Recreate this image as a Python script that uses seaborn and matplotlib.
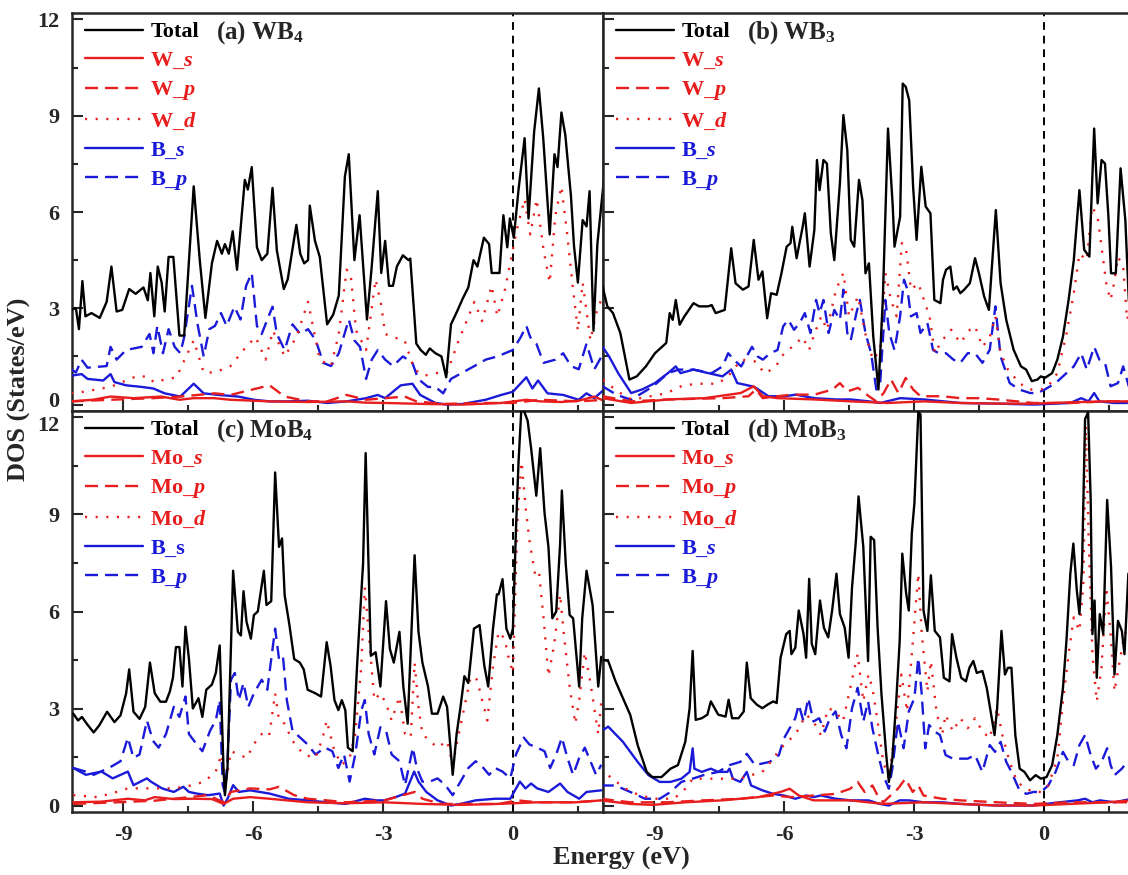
import matplotlib
matplotlib.use('Agg')
import matplotlib.pyplot as plt
from matplotlib.ticker import MultipleLocator
from matplotlib.transforms import ScaledTranslation
import seaborn as sns

############### Dados

# (a) WB4
a_tot_E = [-10.2, -10.09, -10.02, -9.94, -9.87, -9.73, -9.54, -9.38, -9.27, -9.15, -9.02, -8.86, -8.71, -8.53,
           -8.43, -8.37, -8.28, -8.2, -8.11, -8.04, -7.95, -7.84, -7.7, -7.59, -7.37, -7.23, -7.1, -6.95, -6.83,
           -6.72, -6.65, -6.56, -6.47, -6.37, -6.19, -6.12, -6.03, -5.91, -5.8, -5.67, -5.55, -5.45, -5.29, -5.2,
           -5.0, -4.91, -4.82, -4.73, -4.69, -4.57, -4.46, -4.29, -4.15, -4.02, -3.88, -3.79, -3.66, -3.54, -3.37,
           -3.26, -3.12, -3.04, -2.95, -2.86, -2.77, -2.68, -2.54, -2.41, -2.37, -2.23, -2.13, -2.01, -1.92, -1.79,
           -1.65, -1.54, -1.43, -1.29, -1.16, -1.03, -0.91, -0.82, -0.67, -0.55, -0.49, -0.31, -0.22, -0.13, -0.07,
           0.02, 0.13, 0.27, 0.36, 0.49, 0.6, 0.7, 0.85, 0.96, 1.03, 1.12, 1.21, 1.34, 1.41, 1.5, 1.61, 1.7, 1.77,
           1.86, 1.95, 2.1]
a_tot = [2.96, 3.0, 2.35, 3.85, 2.75, 2.85, 2.7, 3.2, 4.3, 2.9, 2.95, 3.6, 3.45, 3.65,
         3.25, 4.1, 2.75, 4.3, 3.8, 2.9, 4.6, 4.6, 2.15, 2.15, 6.8, 4.5, 2.7, 4.4, 5.1,
         4.7, 5.0, 4.7, 5.4, 4.2, 7.0, 6.7, 7.4, 4.9, 4.5, 4.7, 6.75, 4.8, 3.6, 3.9,
         5.6, 4.7, 4.4, 4.5, 6.2, 5.1, 4.6, 2.5, 2.8, 3.4, 7.1, 7.8, 4.5, 5.9, 2.65,
         4.3, 6.65, 4.1, 5.1, 3.7, 3.7, 4.3, 4.65, 4.5, 4.55, 1.9, 1.7, 1.55, 1.75, 1.6,
         1.5, 0.85, 2.5, 2.9, 3.3, 3.65, 4.5, 4.3, 5.2, 5.0, 4.1, 4.1, 5.9, 4.9, 5.8,
         5.2, 6.7, 8.3, 5.8, 8.5, 9.85, 8.3, 5.3, 7.8, 7.4, 9.1, 8.4, 6.5, 4.95, 3.8, 5.75, 5.55, 6.65,
         2.3, 5.0, 7.0]
a_Ms_E = [-10.2, -9.7, -9.29, -8.75, -8.12, -7.7, -7.37, -6.9, -6.52, -5.62, -4.73, -3.84, -3.4, -2.95, -2.05,
          -1.16, -0.27, 0.31, 0.63, 1.1, 1.52, 1.88, 2.13]
a_Ms = [0.1, 0.15, 0.25, 0.2, 0.25, 0.15, 0.2, 0.2, 0.15, 0.1, 0.08, 0.1, 0.06, 0.05, 0.02,
        0.0, 0.05, 0.15, 0.1, 0.08, 0.12, 0.25, 0.1]
a_Mp_E = [-10.2, -9.29, -8.3, -7.68, -6.88, -6.52, -6.07, -5.62, -5.27, -4.73, -4.29, -3.84, -3.39, -2.95, -2.5,
          -2.23, -1.61, -0.71, 0.0, 0.63, 1.52, 2.13]
a_Mp = [0.1, 0.15, 0.2, 0.25, 0.35, 0.3, 0.45, 0.6, 0.25, 0.1, 0.1, 0.3, 0.15, 0.2, 0.25,
        0.1, 0.02, 0.05, 0.05, 0.15, 0.1, 0.15]
a_Md_E = [-10.2, -9.91, -9.29, -8.93, -8.66, -8.39, -8.3, -7.95, -7.77, -7.37, -7.14, -6.88, -6.52, -6.16, -5.94,
          -5.71, -5.54, -5.27, -5.0, -4.73, -4.46, -4.2, -4.02, -3.84, -3.75, -3.62, -3.39, -3.17, -3.04, -2.95,
          -2.77, -2.5, -2.28, -2.05, -1.7, -1.52, -1.25, -0.89, -0.71, -0.49, -0.36, -0.18, 0.09, 0.27, 0.4, 0.55,
          0.71, 0.85, 0.98, 1.12, 1.25, 1.38, 1.5, 1.61, 1.79, 1.95, 2.13]
a_Md = [0.35, 0.4, 0.55, 0.75, 0.9, 0.85, 0.7, 0.8, 0.85, 2.0, 1.0, 1.0, 1.2, 1.8, 2.1,
        1.4, 2.3, 1.5, 2.1, 3.2, 1.4, 1.2, 2.2, 4.2, 4.1, 2.3, 1.7, 3.9, 3.1, 2.2,
        2.1, 2.0, 1.1, 0.9, 1.0, 1.0, 2.0, 3.2, 2.6, 3.7, 2.75, 3.6, 5.45, 6.4, 5.3, 6.4,
        4.8, 3.8, 5.9, 6.8, 5.35, 3.7, 2.3, 3.8, 2.0, 3.0, 3.5]
a_Bs_E = [-10.2, -9.96, -9.82, -9.46, -9.29, -9.2, -8.93, -8.57, -8.3, -8.04, -7.68, -7.37, -7.14, -6.79, -6.34,
          -5.98, -5.62, -5.18, -4.73, -4.29, -3.84, -3.39, -3.12, -2.95, -2.59, -2.32, -2.14, -1.79, -1.52, -1.16,
          -0.63, -0.27, 0.0, 0.31, 0.45, 0.58, 0.8, 1.16, 1.52, 1.7, 1.88, 2.13]
a_Bs = [0.9, 0.95, 0.8, 0.75, 0.95, 0.7, 0.6, 0.55, 0.5, 0.35, 0.25, 0.65, 0.35, 0.3, 0.25,
        0.15, 0.1, 0.1, 0.12, 0.05, 0.1, 0.2, 0.3, 0.2, 0.6, 0.65, 0.3, 0.05, 0.0, 0.02,
        0.15, 0.3, 0.4, 0.85, 0.5, 0.75, 0.35, 0.3, 0.15, 0.35, 0.2, 0.5]
a_Bp_E = [-10.2, -10.09, -9.96, -9.82, -9.38, -9.29, -9.15, -8.93, -8.57, -8.39, -8.3, -8.21, -8.08, -7.95, -7.81,
          -7.68, -7.59, -7.41, -7.28, -7.14, -7.01, -6.88, -6.74, -6.61, -6.43, -6.29, -6.16, -6.03, -5.91, -5.8,
          -5.67, -5.55, -5.45, -5.27, -5.09, -4.91, -4.73, -4.55, -4.38, -4.2, -4.02, -3.79, -3.66, -3.53, -3.39,
          -3.26, -3.12, -2.95, -2.77, -2.54, -2.32, -2.19, -1.96, -1.79, -1.61, -1.43, -1.16, -0.89, -0.63, -0.36,
          -0.18, 0.0, 0.18, 0.31, 0.4, 0.54, 0.71, 0.98, 1.16, 1.34, 1.52, 1.7, 1.88, 2.13]
a_Bp = [1.1, 1.0, 1.4, 1.15, 1.2, 1.8, 1.4, 1.7, 1.8, 2.2, 1.6, 2.45, 1.6, 2.35, 1.8,
        1.6, 2.1, 3.7, 2.5, 1.5, 2.35, 2.45, 2.85, 2.45, 3.05, 2.65, 3.7, 4.1, 2.45, 2.2,
        2.65, 3.05, 2.2, 1.7, 2.5, 2.2, 2.35, 2.0, 1.3, 1.2, 1.6, 2.65, 2.0, 1.8, 0.8,
        1.4, 1.7, 1.4, 1.2, 1.5, 1.3, 0.8, 0.55, 0.55, 0.35, 0.8, 1.0, 1.2, 1.4, 1.5,
        1.6, 1.7, 2.1, 2.45, 2.1, 1.9, 1.3, 1.4, 1.6, 1.2, 1.1, 1.9, 1.1, 1.7]

# (b) WB3
b_tot_E = [-10.19, -10.08, -9.95, -9.78, -9.57, -9.4, -9.19, -8.98, -8.72, -8.64, -8.57, -8.5, -8.41, -8.3,
           -8.09, -7.96, -7.75, -7.67, -7.58, -7.37, -7.22, -7.12, -6.95, -6.82, -6.7, -6.59, -6.5, -6.39, -6.3,
           -6.17, -6.06, -5.94, -5.85, -5.81, -5.71, -5.57, -5.52, -5.41, -5.3, -5.24, -5.18, -5.09, -5.01, -4.92,
           -4.84, -4.71, -4.63, -4.54, -4.46, -4.38, -4.27, -4.19, -4.12, -4.04, -3.94, -3.82, -3.72, -3.6, -3.49,
           -3.45, -3.32, -3.26, -3.19, -3.11, -3.02, -2.94, -2.83, -2.73, -2.62, -2.53, -2.39, -2.33, -2.26, -2.16,
           -2.09, -2.01, -1.93, -1.84, -1.71, -1.59, -1.5, -1.38, -1.27, -1.11, -1.0, -0.87, -0.7, -0.53, -0.41,
           -0.28, -0.15, -0.07, 0.02, 0.19, 0.31, 0.44, 0.57, 0.69, 0.82, 0.93, 1.05, 1.16, 1.24, 1.33, 1.41,
           1.49, 1.55, 1.66, 1.77, 1.88, 1.96, 2.03]
b_tot = [3.68, 3.06, 2.85, 2.23, 0.78, 0.88, 1.19, 1.6, 1.92, 2.85, 2.64, 3.26, 2.49, 2.75,
         3.16, 3.06, 3.06, 3.1, 2.85, 2.95, 4.87, 3.78, 3.58, 3.68, 5.13, 3.89, 4.15, 2.69, 3.47,
         3.42, 4.09, 4.92, 5.03, 5.54, 4.56, 5.54, 5.96, 4.3, 5.44, 7.62, 6.68, 7.62, 7.51, 5.34,
         4.5, 6.9, 9.02, 7.93, 5.13, 4.92, 7.0, 6.37, 4.09, 4.4, 2.12, 0.47, 3.26, 8.6, 6.17,
         4.92, 5.85, 10.0, 9.9, 9.48, 6.79, 5.13, 7.41, 6.17, 5.96, 3.26, 3.16, 3.89, 4.2, 4.3,
         3.58, 3.68, 3.47, 3.58, 3.78, 4.56, 4.09, 3.37, 2.95, 6.06, 3.78, 2.64, 1.71, 1.19, 1.09,
         0.73, 0.78, 0.88, 0.83, 0.98, 1.4, 2.12, 3.26, 4.5, 6.68, 4.82, 4.61, 8.6, 6.27, 7.62, 7.51,
         5.85, 4.09, 4.09, 7.36, 5.75, 3.26, 2.6]
b_Ms_E = [-10.19, -9.53, -8.68, -7.84, -7.0, -6.7, -6.49, -6.15, -5.3, -4.46, -3.61, -2.77, -1.93, -1.08, -0.24,
          0.61, 1.45, 2.03]
b_Ms = [0.2, 0.05, 0.16, 0.2, 0.36, 0.57, 0.26, 0.2, 0.16, 0.1, 0.05, 0.1, 0.05, 0.03, 0.03,
        0.07, 0.1, 0.1]
b_Mp_E = [-10.19, -9.53, -8.68, -7.42, -6.82, -6.65, -6.49, -6.15, -5.81, -5.3, -4.88, -4.71, -4.54, -4.29, -4.04,
          -3.87, -3.7, -3.53, -3.36, -3.19, -3.02, -2.85, -2.35, -1.93, -1.5, -1.08, -0.24, 0.61, 1.45, 2.03]
b_Mp = [0.26, 0.1, 0.16, 0.2, 0.26, 0.47, 0.2, 0.26, 0.31, 0.31, 0.47, 0.67, 0.41, 0.52, 0.26,
        0.1, 0.36, 0.78, 0.36, 0.83, 0.47, 0.26, 0.26, 0.2, 0.2, 0.16, 0.05, 0.05, 0.1, 0.1]
b_Md_E = [-10.18, -9.83, -9.51, -9.12, -8.72, -8.33, -7.94, -7.54, -7.31, -6.99, -6.68, -6.44, -6.2, -6.01, -5.81,
          -5.57, -5.42, -5.3, -5.14, -5.01, -4.8, -4.63, -4.5, -4.29, -4.12, -3.95, -3.78, -3.66, -3.53, -3.4,
          -3.28, -3.19, -3.07, -2.9, -2.77, -2.64, -2.52, -2.35, -2.14, -1.93, -1.71, -1.59, -1.42, -1.25, -1.12,
          -1.0, -0.83, -0.57, -0.32, -0.07, 0.1, 0.31, 0.52, 0.69, 0.82, 0.99, 1.11, 1.24, 1.37, 1.45, 1.54,
          1.62, 1.71, 1.83, 1.92, 2.03]
b_Md = [0.77, 0.4, 0.15, 0.25, 0.35, 0.6, 0.65, 0.65, 0.85, 1.4, 1.35, 0.97, 1.17, 1.58, 1.8,
        2.1, 1.7, 2.2, 2.75, 2.33, 3.58, 4.1, 2.75, 3.37, 2.2, 1.4, 1.7, 4.1, 3.26, 2.75,
        5.03, 4.92, 3.58, 3.78, 3.26, 2.75, 1.6, 2.0, 2.33, 1.92, 2.33, 2.44, 1.8, 2.1, 2.75,
        1.6, 1.09, 0.67, 0.47, 0.47, 0.57, 0.98, 2.2, 3.47, 4.7, 4.5, 6.17, 5.85, 4.5, 3.68, 3.26,
        3.78, 4.6, 4.3, 2.64, 3.26]
b_Bs_E = [-10.19, -10.04, -9.83, -9.53, -9.28, -8.98, -8.68, -8.5, -8.39, -8.09, -7.75, -7.42, -7.22, -7.08, -6.74,
          -6.65, -6.36, -5.98, -5.73, -5.3, -4.8, -4.46, -4.04, -3.78, -3.32, -2.77, -1.93, -1.08, -0.24, 0.61,
          0.86, 1.03, 1.16, 1.28, 1.62, 2.03]
b_Bs = [1.8, 1.5, 0.98, 0.36, 0.47, 0.67, 0.98, 1.19, 0.98, 1.09, 0.98, 0.88, 1.09, 0.67, 0.57,
        0.52, 0.26, 0.26, 0.31, 0.2, 0.16, 0.16, 0.1, 0.05, 0.2, 0.16, 0.05, 0.03, 0.0, 0.05,
        0.2, 0.1, 0.36, 0.1, 0.05, 0.05]
b_Bp_E = [-10.19, -9.86, -9.53, -9.02, -8.68, -8.43, -8.09, -7.67, -7.42, -7.29, -7.16, -6.99, -6.74, -6.61, -6.49,
          -6.32, -6.15, -6.02, -5.9, -5.77, -5.64, -5.52, -5.39, -5.26, -5.18, -5.09, -4.97, -4.84, -4.71, -4.63,
          -4.54, -4.46, -4.33, -4.25, -4.12, -3.99, -3.87, -3.78, -3.66, -3.57, -3.45, -3.32, -3.23, -3.15, -3.07,
          -2.94, -2.85, -2.69, -2.56, -2.43, -2.26, -2.09, -1.93, -1.76, -1.59, -1.42, -1.25, -1.12, -1.0, -0.79,
          -0.57, -0.32, -0.15, 0.02, 0.27, 0.52, 0.69, 0.86, 0.99, 1.16, 1.28, 1.41, 1.54, 1.71, 1.83, 1.96, 2.03]
b_Bp = [0.57, 0.3, 0.15, 0.57, 0.98, 1.09, 1.09, 0.98, 1.19, 1.6, 1.4, 1.19, 1.8, 1.5, 1.4,
        1.6, 1.7, 2.44, 2.64, 2.33, 2.54, 2.85, 2.23, 3.26, 2.85, 3.26, 2.23, 2.95, 2.64, 3.58,
        2.23, 2.0, 2.85, 3.26, 2.23, 1.6, 0.47, 0.67, 3.26, 2.23, 1.7, 2.75, 3.89, 3.58, 2.75,
        2.85, 2.23, 2.54, 1.7, 1.6, 1.6, 1.4, 1.3, 1.6, 1.6, 1.3, 1.71, 3.06, 1.5, 0.67,
        0.47, 0.36, 0.36, 0.47, 0.67, 0.98, 1.19, 1.6, 1.09, 1.8, 1.4, 1.3, 0.57, 0.67, 1.19, 0.57, 0.78]

# (c) MoB4
c_tot_E = [-10.15, -10.04, -9.95, -9.84, -9.68, -9.55, -9.37, -9.2, -9.06, -8.93, -8.86, -8.76, -8.62, -8.49,
           -8.38, -8.27, -8.14, -8.01, -7.92, -7.85, -7.78, -7.7, -7.63, -7.56, -7.48, -7.39, -7.26, -7.17, -7.08,
           -6.95, -6.86, -6.77, -6.68, -6.65, -6.59, -6.46, -6.35, -6.28, -6.22, -6.15, -6.05, -5.98, -5.89, -5.75,
           -5.69, -5.58, -5.49, -5.4, -5.33, -5.27, -5.16, -5.05, -4.92, -4.83, -4.74, -4.56, -4.43, -4.3, -4.21,
           -4.12, -4.03, -3.95, -3.87, -3.81, -3.7, -3.59, -3.46, -3.4, -3.28, -3.17, -3.06, -2.93, -2.84, -2.75,
           -2.62, -2.53, -2.43, -2.27, -2.18, -2.09, -1.96, -1.87, -1.74, -1.61, -1.52, -1.39, -1.3, -1.21, -1.12,
           -1.03, -0.9, -0.77, -0.66, -0.57, -0.46, -0.37, -0.33, -0.24, -0.15, -0.06, 0.0, 0.07, 0.13, 0.2, 0.34,
           0.42, 0.54, 0.63, 0.73, 0.82, 0.91, 1.0, 1.09, 1.13, 1.22, 1.31, 1.39, 1.53, 1.6, 1.7, 1.84, 1.97, 2.04]
c_tot = [2.84, 2.63, 2.74, 2.53, 2.26, 2.48, 2.9, 2.58, 2.79, 3.47, 4.21, 2.9, 2.68, 3.05,
         4.42, 3.47, 3.21, 3.21, 3.53, 3.95, 4.9, 4.9, 3.68, 5.53, 4.53, 3.0, 3.32, 2.74, 3.58,
         3.74, 4.1, 4.95, 1.05, 0.32, 1.16, 7.26, 5.37, 5.26, 6.63, 5.68, 5.16, 5.89, 6.0, 7.26,
         6.2, 6.32, 10.3, 8.0, 8.26, 6.5, 5.58, 4.53, 4.42, 4.21, 3.58, 3.47, 3.37, 5.05, 4.32,
         3.26, 2.95, 3.26, 2.95, 1.79, 1.68, 4.53, 7.47, 10.9, 4.63, 4.74, 3.68, 6.32, 4.84, 4.42,
         5.37, 3.68, 2.53, 7.74, 5.37, 4.42, 3.68, 2.84, 2.84, 3.37, 3.05, 0.95, 2.21, 3.05, 4.0,
         3.79, 5.47, 5.58, 4.32, 3.68, 5.47, 6.53, 6.53, 7.0, 5.47, 5.16, 5.47, 8.53, 10.63, 12.4, 11.9,
         11.05, 9.58, 11.05, 9.05, 8.0, 5.79, 6.0, 8.1, 9.74, 7.47, 5.89, 5.79, 3.68, 5.79, 7.26, 6.2, 3.68, 4.6]
c_Ms_E = [-10.15, -9.5, -8.89, -8.5, -8.27, -7.83, -7.39, -6.95, -6.68, -6.46, -6.07, -5.62, -4.74, -3.86, -2.97,
          -2.09, -1.21, -0.33, 0.55, 1.44, 2.04]
c_Ms = [0.1, 0.12, 0.21, 0.16, 0.26, 0.2, 0.21, 0.2, 0.05, 0.21, 0.26, 0.21, 0.1, 0.07, 0.1,
        0.05, 0.02, 0.05, 0.1, 0.1, 0.16]
c_Mp_E = [-10.15, -9.15, -8.27, -7.83, -7.04, -6.68, -6.51, -6.07, -5.62, -5.4, -5.05, -4.74, -4.3, -3.86, -2.97,
          -2.27, -2.09, -1.65, -0.33, 0.11, 0.55, 1.44, 2.04]
c_Mp = [0.05, 0.1, 0.15, 0.21, 0.32, 0.1, 0.42, 0.53, 0.5, 0.58, 0.32, 0.21, 0.16, 0.1, 0.16,
        0.42, 0.21, 0.05, 0.05, 0.16, 0.1, 0.1, 0.16]
c_Md_E = [-10.15, -9.59, -9.15, -8.89, -8.27, -7.83, -7.39, -7.12, -6.86, -6.73, -6.64, -6.51, -6.33, -6.15, -5.89,
          -5.71, -5.62, -5.49, -5.4, -5.27, -5.09, -4.83, -4.56, -4.39, -4.3, -4.12, -3.95, -3.77, -3.64, -3.5,
          -3.42, -3.33, -3.2, -3.06, -2.93, -2.8, -2.62, -2.49, -2.36, -2.27, -2.18, -2.09, -1.92, -1.74, -1.52,
          -1.39, -1.25, -1.12, -0.99, -0.86, -0.77, -0.59, -0.46, -0.33, -0.19, -0.11, 0.0, 0.11, 0.2, 0.29, 0.38,
          0.51, 0.6, 0.73, 0.82, 0.95, 1.09, 1.17, 1.31, 1.44, 1.53, 1.66, 1.79, 1.97, 2.04]
c_Md = [0.32, 0.26, 0.42, 0.53, 0.53, 0.53, 0.63, 0.74, 1.05, 1.58, 0.63, 1.68, 1.58, 1.47, 2.1,
        2.32, 2.21, 3.47, 2.63, 2.53, 2.0, 1.58, 1.47, 2.1, 2.63, 1.68, 1.26, 1.47, 2.21, 4.32,
        6.74, 5.37, 3.26, 3.47, 3.16, 2.63, 3.37, 2.21, 2.1, 4.42, 3.05, 2.21, 2.0, 1.79, 2.0,
        1.26, 2.21, 3.05, 3.89, 4.0, 3.58, 2.63, 4.32, 5.37, 5.16, 4.63, 4.1, 9.05, 10.63, 9.26, 8.21,
        7.16, 7.26, 5.47, 4.0, 4.95, 6.53, 5.37, 3.68, 2.53, 3.26, 4.74, 3.79, 2.21, 3.2]
c_Bs_E = [-10.15, -9.86, -9.5, -9.24, -8.89, -8.76, -8.45, -8.36, -8.1, -7.83, -7.61, -7.48, -7.3, -7.04, -6.77,
          -6.68, -6.59, -6.46, -6.33, -6.07, -5.62, -5.18, -4.74, -4.3, -3.86, -3.42, -3.15, -2.97, -2.71, -2.49,
          -2.28, -2.18, -2.0, -1.74, -1.43, -1.21, -0.86, -0.41, -0.06, 0.16, 0.29, 0.42, 0.56, 0.82, 1.09, 1.26,
          1.53, 1.7, 2.04]
c_Bs = [1.16, 0.95, 1.05, 0.84, 1.05, 0.63, 0.84, 0.74, 0.53, 0.42, 0.58, 0.42, 0.37, 0.32, 0.37,
        0.0, 0.21, 0.63, 0.42, 0.47, 0.37, 0.21, 0.16, 0.1, 0.05, 0.21, 0.16, 0.16, 0.26, 0.37,
        1.05, 0.74, 0.42, 0.16, 0.0, 0.05, 0.16, 0.21, 0.21, 0.74, 0.53, 0.68, 0.53, 0.42, 0.68, 0.42,
        0.21, 0.42, 0.47]
c_Bp_E = [-10.15, -9.86, -9.68, -9.33, -9.06, -8.89, -8.76, -8.62, -8.45, -8.31, -8.18, -8.01, -7.83, -7.7, -7.56,
          -7.48, -7.3, -7.17, -6.99, -6.86, -6.77, -6.7, -6.65, -6.59, -6.51, -6.42, -6.33, -6.22, -6.11, -5.98,
          -5.8, -5.67, -5.58, -5.49, -5.4, -5.31, -5.22, -5.09, -4.92, -4.74, -4.56, -4.34, -4.17, -4.03, -3.9,
          -3.77, -3.64, -3.5, -3.42, -3.33, -3.2, -3.06, -2.93, -2.8, -2.62, -2.49, -2.31, -2.22, -2.09, -1.92,
          -1.74, -1.56, -1.39, -1.21, -1.03, -0.86, -0.68, -0.55, -0.41, -0.24, -0.06, 0.07, 0.25, 0.38, 0.56,
          0.73, 0.86, 1.0, 1.13, 1.26, 1.39, 1.53, 1.66, 1.79, 1.92, 2.04]
c_Bp = [1.16, 1.05, 0.95, 1.16, 1.37, 2.1, 1.47, 1.58, 2.63, 2.0, 1.79, 2.21, 3.05, 2.74, 3.37,
        2.21, 1.89, 1.68, 2.32, 2.63, 3.26, 0.63, 0.42, 1.37, 3.89, 4.1, 3.26, 3.79, 3.05, 3.47,
        3.89, 3.58, 4.53, 5.47, 4.53, 4.63, 3.26, 2.32, 2.11, 1.89, 1.58, 1.79, 1.68, 1.16, 1.58,
        0.74, 1.58, 2.95, 3.26, 2.21, 1.58, 2.42, 2.32, 1.58, 1.37, 0.63, 1.79, 1.16, 0.74, 0.74,
        0.84, 0.63, 0.32, 0.74, 1.16, 1.37, 1.16, 0.95, 1.16, 1.05, 0.84, 1.58, 2.1, 1.89, 1.79,
        1.68, 1.16, 1.58, 2.1, 1.47, 0.95, 1.47, 1.79, 1.37, 0.95, 1.26]

# (d) MoB3
d_tot_E = [-10.23, -10.06, -9.89, -9.72, -9.55, -9.38, -9.17, -9.04, -8.83, -8.62, -8.45, -8.28, -8.18, -8.11,
           -8.04, -7.9, -7.77, -7.69, -7.52, -7.35, -7.28, -7.2, -7.05, -6.93, -6.86, -6.77, -6.63, -6.5, -6.38,
           -6.25, -6.17, -6.08, -5.95, -5.87, -5.83, -5.74, -5.66, -5.55, -5.49, -5.42, -5.36, -5.28, -5.17, -5.08,
           -4.98, -4.89, -4.79, -4.71, -4.6, -4.51, -4.43, -4.34, -4.28, -4.17, -4.06, -4.0, -3.92, -3.84, -3.75,
           -3.64, -3.58, -3.5, -3.41, -3.33, -3.27, -3.18, -3.12, -3.05, -2.99, -2.9, -2.85, -2.78, -2.69, -2.61,
           -2.52, -2.4, -2.31, -2.18, -2.12, -2.02, -1.91, -1.8, -1.72, -1.63, -1.55, -1.42, -1.32, -1.23, -1.14,
           -1.08, -0.98, -0.9, -0.83, -0.75, -0.66, -0.56, -0.45, -0.32, -0.19, -0.07, 0.06, 0.19, 0.31, 0.44,
           0.52, 0.61, 0.68, 0.76, 0.82, 0.88, 0.95, 1.02, 1.08, 1.12, 1.17, 1.22, 1.29, 1.37, 1.46, 1.55, 1.63,
           1.71, 1.8, 1.86, 1.95, 2.03]
d_tot = [4.52, 4.47, 3.84, 3.32, 2.8, 1.87, 1.04, 0.88, 0.88, 1.14, 1.25, 1.97, 3.01, 4.78,
         2.65, 2.7, 2.81, 3.22, 2.81, 2.75, 3.27, 2.7, 2.7, 2.91, 4.42, 3.32, 3.12, 3.01, 3.12,
         3.22, 3.17, 4.57, 5.3, 5.4, 4.68, 4.88, 6.03, 5.3, 4.57, 7.01, 5.0, 4.68, 6.34, 5.5,
         5.2, 6.03, 7.17, 5.92, 5.5, 4.57, 6.75, 8.21, 9.56, 8.0, 4.47, 8.31, 8.21, 5.5, 3.43,
         1.56, 0.73, 1.45, 3.22, 5.09, 7.79, 6.55, 6.03, 8.42, 9.35, 12.16, 12.1, 6.03, 5.4, 7.12,
         5.4, 5.2, 3.95, 3.84, 5.3, 4.57, 3.95, 3.84, 4.26, 4.47, 4.1, 4.16, 3.64, 2.91, 2.18,
         3.01, 5.4, 4.05, 4.26, 4.26, 2.18, 1.14, 1.04, 0.78, 0.94, 0.83, 0.88, 1.25, 2.18, 3.64,
         5.09, 7.17, 8.1, 6.65, 5.92, 7.38, 11.95, 12.16, 9.45, 5.3, 6.34, 3.95, 5.92, 5.3, 9.45, 7.38, 4.05,
         5.71, 5.4, 4.68, 7.17, 7.27]
d_Ms_E = [-10.23, -9.55, -9.04, -8.28, -7.43, -6.59, -6.08, -5.87, -5.66, -5.32, -4.47, -3.71, -2.78, -1.93, -1.08,
          -0.24, 0.61, 1.46, 2.03]
d_Ms = [0.16, 0.05, 0.02, 0.1, 0.16, 0.26, 0.42, 0.52, 0.31, 0.16, 0.16, 0.05, 0.1, 0.05, 0.0,
        0.0, 0.05, 0.1, 0.16]
d_Mp_E = [-10.23, -9.55, -8.7, -7.86, -7.01, -6.25, -5.83, -5.32, -4.81, -4.47, -4.3, -4.14, -3.96, -3.84, -3.71,
          -3.54, -3.37, -3.2, -3.03, -2.9, -2.78, -2.35, -1.93, -1.08, -0.24, 0.61, 1.46, 2.03]
d_Mp = [0.21, 0.1, 0.1, 0.16, 0.21, 0.31, 0.26, 0.31, 0.36, 0.52, 0.73, 0.42, 0.62, 0.31, 0.1,
        0.31, 0.52, 0.83, 0.42, 0.62, 0.31, 0.21, 0.16, 0.1, 0.05, 0.1, 0.1, 0.1]
d_Md_E = [-10.23, -9.97, -9.55, -9.04, -8.54, -8.28, -8.11, -7.86, -7.43, -7.01, -6.76, -6.5, -6.25, -6.08, -5.91,
          -5.7, -5.49, -5.32, -5.15, -4.98, -4.81, -4.64, -4.47, -4.3, -4.17, -4.05, -3.96, -3.84, -3.71, -3.58,
          -3.45, -3.29, -3.16, -3.05, -2.9, -2.82, -2.69, -2.61, -2.48, -2.35, -2.27, -2.1, -1.93, -1.76, -1.59,
          -1.42, -1.25, -1.08, -0.96, -0.79, -0.62, -0.41, -0.24, -0.07, 0.1, 0.31, 0.44, 0.57, 0.69, 0.82, 0.91,
          0.97, 1.03, 1.12, 1.22, 1.33, 1.44, 1.54, 1.63, 1.75, 1.86, 1.96, 2.03]
d_Md = [1.14, 0.83, 0.42, 0.21, 0.21, 0.52, 0.83, 0.83, 0.83, 0.83, 0.94, 1.04, 1.45, 1.77, 1.97,
        2.29, 2.81, 2.6, 2.18, 3.01, 2.91, 2.6, 3.64, 4.68, 3.22, 4.05, 3.64, 2.6, 1.35, 0.83,
        2.18, 4.05, 2.91, 4.68, 7.17, 5.3, 3.53, 4.47, 2.91, 2.18, 2.81, 2.29, 2.7, 2.39, 2.7,
        2.29, 2.08, 3.01, 2.18, 1.35, 0.73, 0.52, 0.42, 0.42, 0.62, 1.45, 3.22, 4.68, 5.82, 5.4, 6.86,
        11.74, 8.42, 4.68, 3.22, 4.26, 6.75, 5.3, 3.53, 4.47, 5.3, 5.5, 5.4]
d_Bs_E = [-10.23, -10.06, -9.72, -9.38, -9.13, -8.87, -8.62, -8.37, -8.18, -8.11, -8.07, -7.9, -7.69, -7.52, -7.31,
          -7.26, -7.18, -7.01, -6.86, -6.76, -6.5, -6.25, -6.0, -5.74, -5.49, -5.32, -5.15, -4.81, -4.47, -4.05,
          -3.79, -3.58, -3.33, -3.12, -2.78, -2.35, -1.93, -1.08, -0.24, 0.36, 0.78, 0.95, 1.12, 1.29, 1.63, 2.03]
d_Bs = [2.29, 2.44, 1.97, 1.35, 0.94, 0.73, 0.73, 0.83, 1.04, 1.77, 1.14, 1.04, 1.14, 1.04, 1.04,
        1.14, 0.83, 0.73, 1.04, 0.62, 0.47, 0.36, 0.31, 0.21, 0.31, 0.26, 0.31, 0.21, 0.16, 0.16,
        0.05, 0.0, 0.16, 0.16, 0.1, 0.1, 0.05, 0.0, 0.0, 0.1, 0.16, 0.21, 0.1, 0.16, 0.1, 0.21]
d_Bp_E = [-10.23, -9.89, -9.55, -9.21, -8.87, -8.62, -8.37, -8.11, -7.86, -7.52, -7.26, -7.01, -6.86, -6.67, -6.33,
          -6.12, -6.0, -5.87, -5.74, -5.66, -5.55, -5.44, -5.32, -5.19, -5.06, -4.94, -4.81, -4.68, -4.56, -4.43,
          -4.3, -4.17, -4.06, -3.96, -3.84, -3.71, -3.58, -3.5, -3.37, -3.24, -3.12, -2.99, -2.9, -2.82, -2.74,
          -2.65, -2.52, -2.4, -2.27, -2.1, -1.93, -1.76, -1.59, -1.42, -1.25, -1.13, -1.0, -0.87, -0.75, -0.58,
          -0.41, -0.24, -0.07, 0.1, 0.27, 0.44, 0.57, 0.69, 0.82, 0.95, 1.08, 1.2, 1.33, 1.46, 1.54, 1.63, 1.8,
          1.92, 2.03]
d_Bp = [0.62, 0.62, 0.42, 0.21, 0.21, 0.42, 0.73, 0.83, 0.94, 1.04, 1.25, 1.35, 1.6, 1.25, 1.35,
        1.56, 2.08, 2.39, 2.7, 3.12, 2.6, 3.32, 2.6, 2.7, 2.29, 2.7, 2.91, 2.18, 1.77, 3.01,
        3.64, 2.6, 3.22, 2.39, 1.66, 0.94, 0.52, 1.14, 2.6, 1.77, 2.91, 3.32, 4.57, 3.43, 1.77,
        2.49, 2.29, 2.18, 1.56, 1.45, 1.45, 1.45, 1.56, 1.04, 1.87, 1.66, 1.97, 1.35, 1.04, 0.52,
        0.36, 0.42, 0.42, 0.62, 1.04, 1.66, 1.35, 1.25, 1.87, 2.18, 1.56, 1.14, 1.35, 1.77, 1.25, 0.94, 1.14,
        1.35, 1.45]

paineis = [
    ('(a) WB$_4$', 'W', [(a_tot_E, a_tot), (a_Ms_E, a_Ms), (a_Mp_E, a_Mp), (a_Md_E, a_Md), (a_Bs_E, a_Bs), (a_Bp_E, a_Bp)]),
    ('(b) WB$_3$', 'W', [(b_tot_E, b_tot), (b_Ms_E, b_Ms), (b_Mp_E, b_Mp), (b_Md_E, b_Md), (b_Bs_E, b_Bs), (b_Bp_E, b_Bp)]),
    ('(c) MoB$_4$', 'Mo', [(c_tot_E, c_tot), (c_Ms_E, c_Ms), (c_Mp_E, c_Mp), (c_Md_E, c_Md), (c_Bs_E, c_Bs), (c_Bp_E, c_Bp)]),
    ('(d) MoB$_3$', 'Mo', [(d_tot_E, d_tot), (d_Ms_E, d_Ms), (d_Mp_E, d_Mp), (d_Md_E, d_Md), (d_Bs_E, d_Bs), (d_Bp_E, d_Bp)]),
]

############### Estilo

sns.set_style('ticks')
plt.rcParams['font.family'] = ['Liberation Serif', 'DejaVu Serif']
plt.rcParams['font.weight'] = 'bold'
plt.rcParams['axes.unicode_minus'] = False
plt.rcParams['mathtext.fontset'] = 'custom'
plt.rcParams['mathtext.rm'] = 'Liberation Serif:bold'
plt.rcParams['mathtext.bf'] = 'Liberation Serif:bold'
plt.rcParams['mathtext.it'] = 'Liberation Serif:bold:italic'

VERMELHO = '#e81e1e'
AZUL = '#1a1ad8'
cores = ['black', VERMELHO, VERMELHO, VERMELHO, AZUL, AZUL]
tracos = ['-', '-', (0, (5.5, 3)), (0, (0.9, 3.6)), '-', (0, (5.5, 3))]

W, H = 1128, 875
def caixa(x0, y0, x1, y1):
    return [x0 / W, 1 - y1 / H, (x1 - x0) / W, (y1 - y0) / H]

posicoes = [caixa(72, 13, 603, 411), caixa(603, 13, 1134, 411),
            caixa(72, 411, 603, 812), caixa(603, 411, 1134, 812)]

fig = plt.figure(figsize=(11.28, 8.75), dpi=100)
eixos = []

for i, (titulo, metal, curvas) in enumerate(paineis):
    ax = fig.add_axes(posicoes[i])
    eixos.append(ax)
    ax.axvline(0, color='black', linestyle=(0, (4, 3)), linewidth=1.4, zorder=1)
    sufixo_b = 'B_s' if i == 2 else r'B_$\mathit{s}$'
    rotulos = ['Total', metal + r'_$\mathit{s}$', metal + r'_$\mathit{p}$', metal + r'_$\mathit{d}$',
               sufixo_b, r'B_$\mathit{p}$']
    linhas = [None] * 6
    for k in [5, 4, 3, 2, 1, 0]:
        E, dos = curvas[k]
        sns.lineplot(x=E, y=dos, ax=ax, color=cores[k], linestyle=tracos[k], linewidth=1.7,
                     estimator=None, sort=False, zorder=3 + (6 - k))
        linhas[k] = ax.lines[-1]
    ax.set_xlim(-10.18, 2.08)
    ax.set_ylim(-0.2, 12.2)
    ax.xaxis.set_major_locator(MultipleLocator(3))
    ax.xaxis.set_minor_locator(MultipleLocator(1.5))
    ax.yaxis.set_major_locator(MultipleLocator(3))
    ax.yaxis.set_minor_locator(MultipleLocator(1.5))
    ax.tick_params(which='both', direction='in', width=1.5, top=False, right=False,
                   labelsize=16, pad=9)
    ax.tick_params(which='major', length=8)
    ax.tick_params(which='minor', length=4.5)
    for sp in ax.spines.values():
        sp.set_linewidth(1.8)
    ax.set_xlabel('')
    ax.set_ylabel('')
    if i < 2:
        ax.tick_params(labelbottom=False)
    if i % 2 == 1:
        ax.tick_params(labelleft=False)
    leg = ax.legend(linhas, rotulos, loc='upper left', bbox_to_anchor=(0.024, 0.978),
                    frameon=False, borderpad=0, borderaxespad=0, handlelength=2.6,
                    handletextpad=0.35, labelspacing=0.37,
                    prop={'size': 16, 'weight': 'bold'})
    for t, c in zip(leg.get_texts(), cores):
        t.set_color(c)
    ax.text(0.272, 0.952, titulo, transform=ax.transAxes, fontsize=18, fontweight='bold',
            ha='left', va='center')

fig.text(0.017, 0.555, 'DOS (States/eV)', rotation=90, ha='center', va='center',
         fontsize=19, fontweight='bold')
fig.text(0.551, 0.019, 'Energy (eV)', ha='center', va='center', fontsize=19, fontweight='bold')

# afasta um pouco o "0" de cima do "12" de baixo, que ficam colados na junção
fig.canvas.draw()
for ax, valor, dy in [(eixos[0], 0, 4), (eixos[2], 12, -4)]:
    for tick in ax.yaxis.get_major_ticks():
        if abs(tick.get_loc() - valor) < 1e-6:
            tick.label1.set_transform(tick.label1.get_transform() +
                                      ScaledTranslation(0, dy / 72, fig.dpi_scale_trans))

fig.savefig('out.png', dpi=100)
